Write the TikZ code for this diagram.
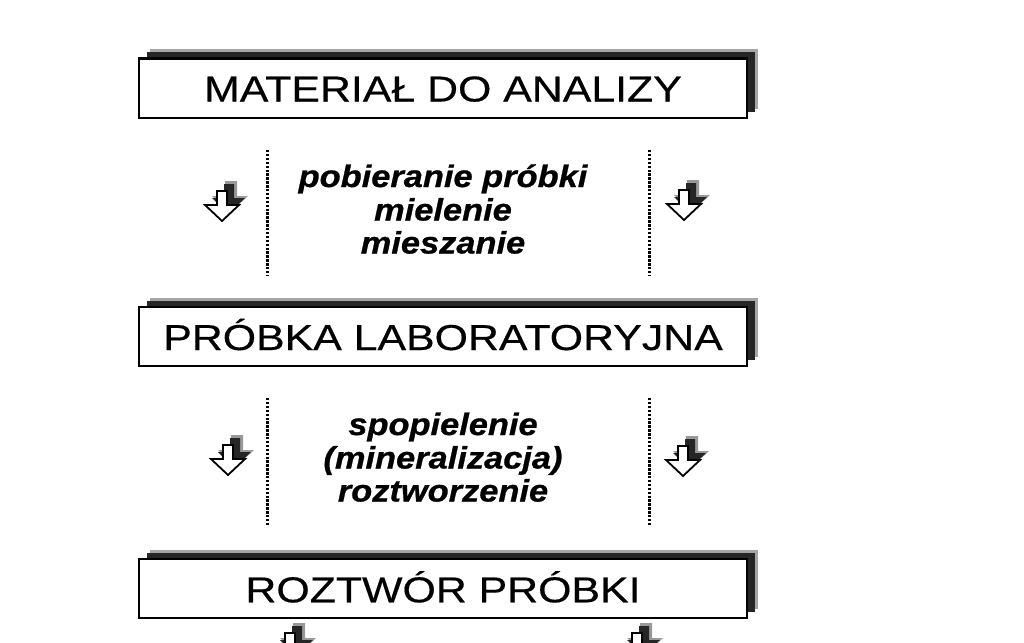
\documentclass[tikz,border=0pt]{standalone}
\usepackage{fontspec}
\setmainfont{Liberation Sans}
\newfontfamily\boxfont[FakeStretch=1.19,FakeBold=0.4]{Liberation Sans}
\newfontfamily\stepfont[FakeStretch=1.11,FakeBold=0.8]{Liberation Sans}
\usetikzlibrary{shadows}
\tikzset{
  labelbox/.style={draw=black, line width=2pt, fill=white,
    minimum width=608pt, minimum height=59pt, inner sep=0pt,
    text height=27pt, text depth=0pt,
    font=\boxfont\fontsize{36}{40}\selectfont,
    drop shadow={shadow xshift=11pt, shadow yshift=9pt, fill=black!35, opacity=1},
    drop shadow={shadow xshift=8pt, shadow yshift=6pt, fill=black!85, opacity=1}},
  steptext/.style={anchor=base, inner sep=0pt,
    font=\stepfont\bfseries\itshape\fontsize{31}{35}\selectfont},
  sepline/.style={line width=3pt, dash pattern=on 2.4pt off 1.5pt},
  dnarrow/.pic={
    \fill[black!40] (3,-10) -- (15,-10) -- (15,5) -- (26,5) -- (8,22) -- (-10,5) -- (3,5) -- cycle;
    \fill[black!85] (2,-7) -- (12,-7) -- (12,7) -- (23,7) -- (6,23) -- (-10,7) -- (2,7) -- cycle;
    \filldraw[fill=white, draw=black, line width=1.8pt, line join=miter]
      (-5,0) -- (5,0) -- (5,14) -- (17,14) -- (0,30) -- (-17,14) -- (-5,14) -- cycle;
  }
}
\begin{document}
\begin{tikzpicture}[x=1pt,y=-1pt]
\useasboundingbox (0,0) rectangle (1024,642);
\fill[white] (0,0) rectangle (1024,642);
\clip (0,0) rectangle (1024,642);

% boxes
\node[labelbox] (b1) at (443,88) {MATERIAŁ DO ANALIZY};
\node[labelbox] (b2) at (443,336.5) {PRÓBKA LABORATORYJNA};
\node[labelbox] (b3) at (443,588.8) {ROZTWÓR PRÓBKI};

% step 1
\draw[sepline] (267,150) -- (267,275);
\draw[sepline] (649,150) -- (649,275);
\node[steptext] (s1a) at (443,187) {pobieranie próbki};
\node[steptext] (s1b) at (443,220.5) {mielenie};
\node[steptext] (s1c) at (443,253.5) {mieszanie};
\pic at (222,191) {dnarrow};
\pic at (684,190) {dnarrow};

% step 2
\draw[sepline] (267,398) -- (267,525);
\draw[sepline] (649,398) -- (649,525);
\node[steptext] (s2a) at (443,435) {spopielenie};
\node[steptext] (s2b) at (443,468.5) {(mineralizacja)};
\node[steptext] (s2c) at (443,501.5) {roztworzenie};
\pic at (228,445) {dnarrow};
\pic at (683,446) {dnarrow};

% next arrows (cut off)
\pic at (290,633) {dnarrow};
\pic at (637,633) {dnarrow};
\end{tikzpicture}
\end{document}
